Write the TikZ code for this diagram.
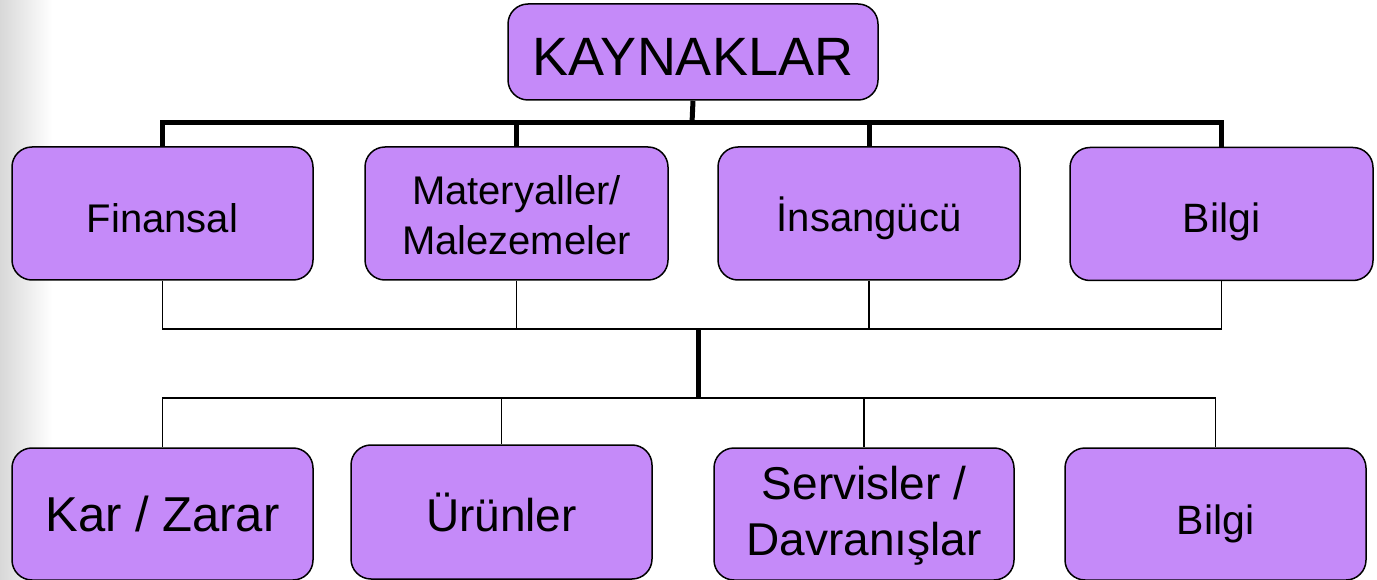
\documentclass[tikz,border=0pt]{standalone}
\usepackage{fontspec}
\setmainfont{Liberation Sans}
\definecolor{boxfill}{RGB}{197,138,249}
\definecolor{edgegray}{RGB}{216,216,216}
\newcommand{\dn}[2]{\raisebox{-#1pt}[\height][\depth]{#2}}
\begin{document}
\begin{tikzpicture}[x=1pt,y=-1pt,
  box/.style={draw=black,line width=1.5pt,fill=boxfill,rounded corners=20pt,
    inner sep=0pt,align=center,text=black},
  thickline/.style={draw=black,line width=5pt},
  thinline/.style={draw=black,line width=1.7pt}]
\useasboundingbox (0,0) rectangle (1377,580);
\fill[white] (0,0) rectangle (1377,580);
\shade[left color=edgegray,right color=white] (0,0) rectangle (52,580);
% nodes
\node[box,minimum width=370pt,minimum height=96pt,font=\fontsize{54}{60}\selectfont] (K) at (693,52) {\dn{5}{KAYNAKLAR}};
\node[box,minimum width=301pt,minimum height=133pt,font=\fontsize{40}{48}\selectfont] (F) at (162.5,213.5) {\dn{5}{Finansal}};
\node[box,minimum width=303pt,minimum height=133pt,font=\fontsize{40}{50}\selectfont] (M) at (516.5,213.5) {\dn{2}{Materyaller/}\\\dn{2}{Malezemeler}};
\node[box,minimum width=302pt,minimum height=133pt,font=\fontsize{40}{48}\selectfont] (I) at (869,213.5) {\dn{5}{İnsangücü}};
\node[box,minimum width=303pt,minimum height=133pt,font=\fontsize{41}{48}\selectfont] (B1) at (1221.5,214) {\dn{8}{Bilgi}};
\node[box,minimum width=301pt,minimum height=132pt,font=\fontsize{49}{58}\selectfont] (KZ) at (162.5,514) {Kar / Zarar};
\node[box,minimum width=301pt,minimum height=134pt,font=\fontsize{46}{55}\selectfont] (U) at (501.5,512) {Ürünler};
\node[box,minimum width=300pt,minimum height=132pt,font=\fontsize{46}{56}\selectfont] (S) at (864,514) {\dn{2}{Servisler /}\\\dn{2}{Davranışlar}};
\node[box,minimum width=301pt,minimum height=132pt,font=\fontsize{41}{48}\selectfont] (B2) at (1215.5,514) {\dn{10}{Bilgi}};
% coordinates
\coordinate (tbar) at (692,123);
\coordinate (mtop) at (698,329);
\coordinate (mbot) at (698,398);
% top connectors
\draw[thickline] (K.south) -- (tbar);
\draw[thickline] (tbar) -| (F.north);
\draw[thickline] (tbar) -| (M.north);
\draw[thickline] (tbar) -| (I.north);
\draw[thickline] (tbar) -| (B1.north);
% middle connectors
\draw[thinline] (F.south) |- (mtop);
\draw[thinline] (M.south) |- (mtop);
\draw[thinline] (I.south) |- (mtop);
\draw[thinline] (B1.south) |- (mtop);
\draw[thickline] (mtop) -- (mbot);
% bottom connectors
\draw[thinline] (mbot) -| (KZ.north);
\draw[thinline] (mbot) -| (U.north);
\draw[thinline] (mbot) -| (S.north);
\draw[thinline] (mbot) -| (B2.north);
\end{tikzpicture}
\end{document}
